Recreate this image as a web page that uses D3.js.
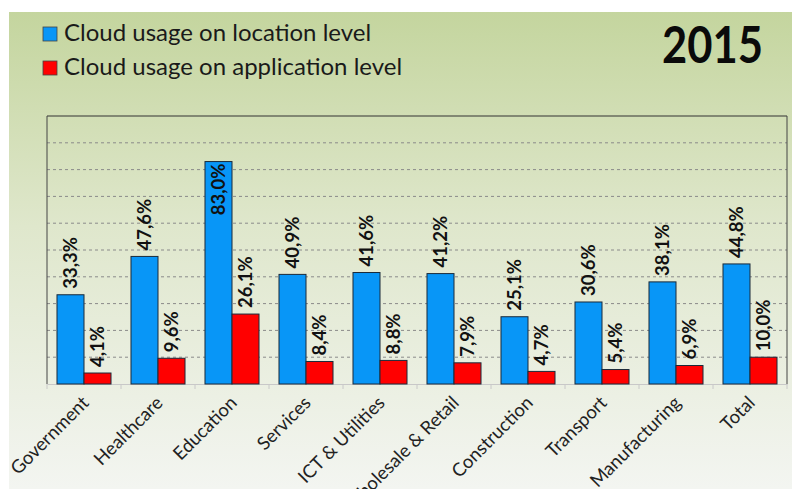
<!DOCTYPE html>
<html><head><meta charset="utf-8">
<script src="https://cdn.jsdelivr.net/npm/d3@7"></script>
<style>html,body{margin:0;padding:0;background:#fff;}svg{display:block;}</style>
</head><body>
<svg id="c" width="792" height="489"></svg>
<script>
const categories = ["Government","Healthcare","Education","Services","ICT & Utilities","Wholesale & Retail","Construction","Transport","Manufacturing","Total"];
const locationLevel = [33.3,47.6,83.0,40.9,41.6,41.2,25.1,30.6,38.1,44.8];
const applicationLevel = [4.1,9.6,26.1,8.4,8.8,7.9,4.7,5.4,6.9,10.0];
const seriesNames = ["Cloud usage on location level","Cloud usage on application level"];
const yTicks = [0,10,20,30,40,50,60,70,80,90,100];
const title = "2015";

const svg = d3.select("#c");
const W = 792, H = 489;
const defs = svg.append("defs");
const g = defs.append("linearGradient").attr("id","bg").attr("x1",0).attr("y1",0).attr("x2",0).attr("y2",1);
g.append("stop").attr("offset","0%").attr("stop-color","#c4d59e");
g.append("stop").attr("offset","45%").attr("stop-color","#dfe7cc");
g.append("stop").attr("offset","100%").attr("stop-color","#f3f5f1");
svg.append("rect").attr("x",9).attr("y",12).attr("width",W-9).attr("height",H-12).attr("fill","url(#bg)");

const m = {l:47, r:787, t:116, b:384};
const x0 = d3.scaleBand().domain(categories).range([m.l,m.r]).paddingInner(0).paddingOuter(0);
const x1 = d3.scaleBand().domain([0,1]).range([0,x0.bandwidth()]).paddingInner(0).paddingOuter(0.37);
const y = d3.scaleLinear().domain([0,100]).range([m.b,m.t]);

// gridlines
svg.append("g").selectAll("line").data(yTicks.slice(1,-1)).join("line")
  .attr("x1",m.l).attr("x2",m.r).attr("y1",d=>y(d)).attr("y2",d=>y(d))
  .attr("stroke","#8a8a8a").attr("stroke-width",1).attr("stroke-dasharray","3,3");

// x axis
const xAxis = d3.axisBottom(x0).tickSize(0).tickFormat("");
const ax = svg.append("g").attr("transform",`translate(0,${m.b})`).call(xAxis);
ax.select(".domain").attr("stroke","#c8c8c8");
svg.append("g").selectAll("line").data(d3.range(categories.length+1)).join("line")
  .attr("x1",i=>m.l+i*x0.step()).attr("x2",i=>m.l+i*x0.step())
  .attr("y1",m.b).attr("y2",m.b+5).attr("stroke","#c8c8c8");

// frame
svg.append("line").attr("x1",m.l).attr("x2",m.r).attr("y1",m.t).attr("y2",m.t).attr("stroke","#333");
svg.append("line").attr("x1",m.l).attr("x2",m.l).attr("y1",m.t).attr("y2",m.b).attr("stroke","#444");
svg.append("line").attr("x1",m.r).attr("x2",m.r).attr("y1",m.t).attr("y2",m.b).attr("stroke","#444");

const colors = ["#0896f7","#ff0000"];
const series = [locationLevel, applicationLevel];
const fmt = v => d3.format(".1f")(v).replace(".",",") + "%";

series.forEach((vals, s) => {
  const grp = svg.append("g");
  grp.selectAll("rect").data(vals).join("rect")
    .attr("x",(d,i)=>x0(categories[i])+x1(s))
    .attr("width",x1.bandwidth())
    .attr("y",d=>y(d)).attr("height",d=>y(0)-y(d))
    .attr("fill",colors[s]).attr("stroke","#1a2a3a").attr("stroke-width",1);
  grp.selectAll("text").data(vals).join("text")
    .attr("transform",(d,i)=>{
      const cx = x0(categories[i])+x1(s)+x1.bandwidth()/2;
      const inside = d > 75;
      const yy = inside ? y(d)+2 : y(d)-6;
      return `translate(${cx},${yy}) rotate(-90)`;
    })
    .attr("text-anchor",d=> d>75 ? "end" : "start")
    .attr("dy","0.36em")
    .attr("font-family","Lato, 'Open Sans', sans-serif").attr("font-weight","bold")
    .attr("font-size",18.5).attr("fill","#111")
    .text(d=>fmt(d));
});

// category labels
svg.append("g").selectAll("text").data(categories).join("text")
  .attr("transform",d=>`translate(${x0(d)+x0.bandwidth()/2+6},${m.b+20}) rotate(-45)`)
  .attr("text-anchor","end")
  .attr("font-family","Lato, 'Open Sans', sans-serif").attr("font-size",18.5).attr("fill","#222")
  .text(d=>d);

// legend
const lg = svg.append("g");
seriesNames.forEach((n,i)=>{
  const yy = 27 + i*34;
  lg.append("rect").attr("x",43).attr("y",yy).attr("width",14).attr("height",14)
    .attr("fill",colors[i]).attr("stroke","#444").attr("stroke-width",0.8);
  lg.append("text").attr("x",64).attr("y",yy+14).attr("font-family","Lato, sans-serif")
    .attr("font-size",24).attr("fill","#1a1a1a").text(n);
});

svg.append("text").attr("x",662).attr("y",63).attr("font-family","Lato, sans-serif")
  .attr("font-weight","bold").attr("font-size",52).attr("fill","#0a0a0a")
  .attr("textLength",101).attr("lengthAdjust","spacingAndGlyphs").text(title);
</script>
</body></html>
